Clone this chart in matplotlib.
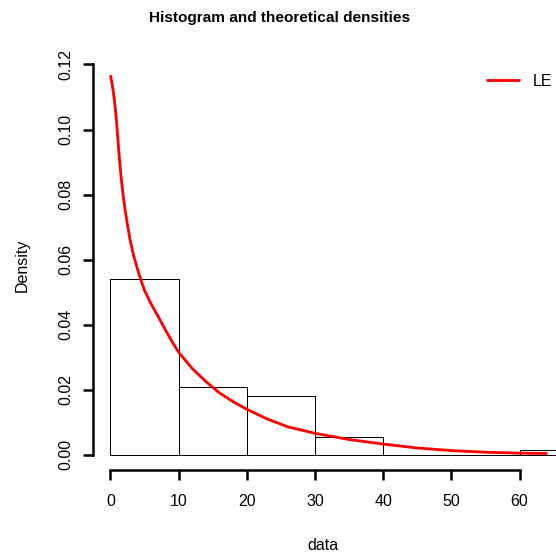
import matplotlib
matplotlib.use("Agg")
import matplotlib.pyplot as plt
import numpy as np

plt.rcParams['font.family'] = ['Liberation Sans', 'DejaVu Sans']

# histogram bins and densities
bin_edges = [0, 10, 20, 30, 40, 50, 60, 70]
densities = [0.0542, 0.0208, 0.0181, 0.0056, 0.0, 0.0, 0.0014]

# theoretical density curve (LE)
curve_x = [0, 0.2, 0.4, 0.6, 0.8, 1.0, 1.25, 1.55, 1.9, 2.2, 2.55, 2.9, 3.4,
           4, 4.5, 5, 6, 7, 8, 9, 10, 12, 14, 16, 18, 20, 23, 26, 30, 35,
           40, 45, 50, 55, 60, 64.1]
curve_y = [0.1167, 0.1145, 0.1118, 0.1085, 0.1045, 0.0995, 0.0925, 0.0855,
           0.0790, 0.0745, 0.0700, 0.0658, 0.0612, 0.0568, 0.0535, 0.0505,
           0.0462, 0.0425, 0.0386, 0.0349, 0.0315, 0.0265, 0.0225, 0.0190,
           0.0163, 0.0140, 0.0110, 0.0086, 0.0066, 0.0047, 0.0033, 0.0021,
           0.0013, 0.0008, 0.0005, 0.0004]

x_ticks = [0, 10, 20, 30, 40, 50, 60]
y_ticks = [0.00, 0.02, 0.04, 0.06, 0.08, 0.10, 0.12]

W, H = 556, 554
fig = plt.figure(figsize=(W / 72, H / 72), dpi=72)
# plot region in pixels (runs past the right edge like the original)
left, right, top, bottom = 93, 565, 60, 470
ax = fig.add_axes([left / W, 1 - bottom / H, (right - left) / W, (bottom - top) / H])

widths = np.diff(bin_edges)
ax.bar(bin_edges[:-1], densities, width=widths, align='edge',
       facecolor='white', edgecolor='black', linewidth=1, zorder=1)
ax.plot(curve_x, curve_y, color='red', linewidth=2.8, zorder=2,
        solid_capstyle='butt', solid_joinstyle='round')

xmax = max(curve_x)
ymax = max(curve_y)
ax.set_xlim(-0.04 * xmax, 1.04 * xmax)
ax.set_ylim(-0.04 * ymax, 1.04 * ymax)

for s in ['top', 'right']:
    ax.spines[s].set_visible(False)
for s in ['left', 'bottom']:
    ax.spines[s].set_linewidth(2.5)
ax.spines['bottom'].set_bounds(x_ticks[0], x_ticks[-1])
ax.spines['left'].set_bounds(y_ticks[0], y_ticks[-1])

ax.set_xticks(x_ticks)
ax.set_xticklabels([str(t) for t in x_ticks])
ax.set_yticks(y_ticks)
ax.set_yticklabels(['%.2f' % t for t in y_ticks])
ax.tick_params(axis='both', length=10, width=2.5, labelsize=16, colors='black')
ax.tick_params(axis='x', pad=14)
ax.tick_params(axis='y', pad=10)
plt.setp(ax.get_yticklabels(), rotation=90, va='center')

fig.text(280 / W, 1 - 18 / H, 'Histogram and theoretical densities',
         ha='center', va='center', fontsize=15.4, fontweight='bold')
fig.text(323 / W, 1 - 545 / H, 'data', ha='center', va='center', fontsize=16)
fig.text(22 / W, 1 - 265 / H, 'Density', ha='center', va='center',
         rotation=90, fontsize=16)

fig.legend([ax.lines[0]], ['LE'], loc='center left',
           bbox_to_anchor=(486 / W, 1 - 81 / H), frameon=False,
           handlelength=2.1, handletextpad=0.8, borderpad=0,
           borderaxespad=0, fontsize=16)

fig.savefig('out.png', dpi=72)
